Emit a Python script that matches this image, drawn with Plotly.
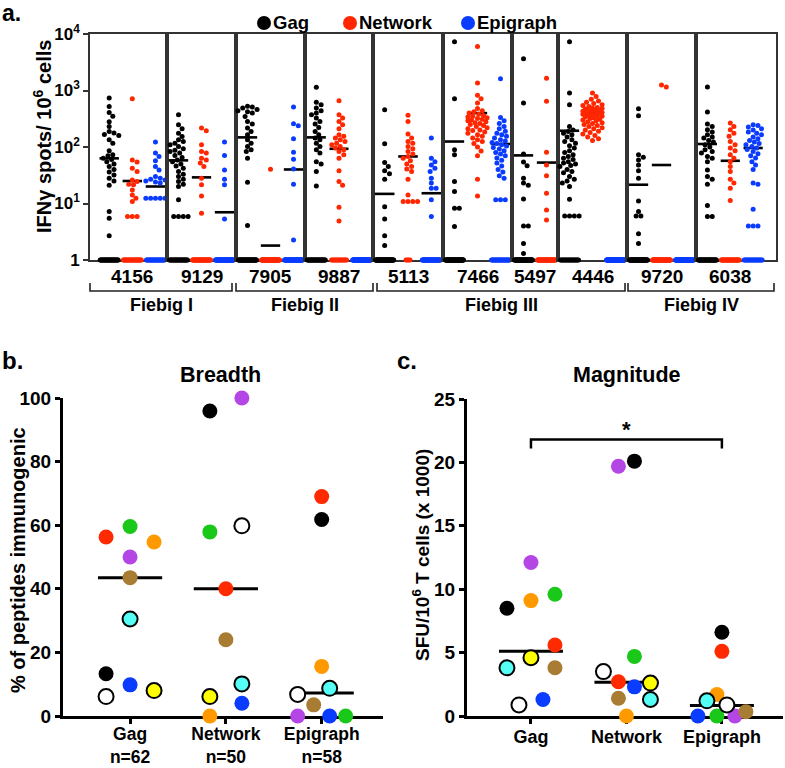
import numpy as np
import plotly.graph_objects as go

W, H = 785, 768

# ---------------- DATA ----------------
antigens = ["Gag", "Network", "Epigraph"]
antigen_colors = ["#000000", "#ff2600", "#0a3cff"]

subjects = ["4156", "9129", "7905", "9887", "5113", "7466", "5497", "4446", "9720", "6038"]
fiebig_groups = ["Fiebig I", "Fiebig II", "Fiebig III", "Fiebig IV"]

# panel a: positive responses (IFNg spots / 1e6 cells) per subject, per antigen
a_gag = [
    [740, 520, 410, 350, 280, 230, 188, 177, 167, 160, 134, 117, 86, 73, 70, 63, 60, 55, 50, 45, 40, 36, 32, 28, 25, 21, 7.2, 5.5, 2.7],
    [372, 248, 210, 176, 154, 134, 125, 117, 110, 102, 93, 88, 83, 78, 71, 65, 59, 55, 50, 46, 42, 37, 33, 30, 27, 24.5, 22, 20, 11.6, 5.9, 5.9, 5.9, 5.9],
    [524, 510, 490, 460, 438, 420, 398, 348, 284, 255, 216, 189, 165, 134, 117, 102, 89, 83, 63.5, 23.8, 4.1],
    [1137, 617, 561, 490, 438, 398, 372, 325, 284, 255, 222, 189, 165, 144, 134, 117, 102, 89, 78, 55, 50, 37, 20.5],
    [457, 114, 53, 45, 38, 33.5, 27, 8.8, 5.3, 2.7, 1.8],
    [7300, 716, 89, 73, 24.5, 16.3, 8.2, 8.2, 3.9],
    [3660, 600, 75, 54, 46.6, 28, 23, 21, 12, 4, 4, 1.95, 1.3],
    [7300, 900, 561, 231, 200, 189, 175, 165, 150, 134, 125, 117, 105, 96, 86, 80, 73, 68, 63.5, 60, 55, 52, 50, 47, 45, 40, 37, 35, 30, 27, 25, 23, 20, 11.9, 6, 6, 6, 6],
    [477, 358, 73, 66, 59, 48, 38, 28, 11.1, 7.2, 6, 6, 2.9, 1.95],
    [1150, 415, 255, 231, 202, 185, 165, 150, 144, 130, 122, 110, 100, 89, 83, 78, 68, 63.5, 55, 39, 30, 27, 22, 9.2, 5.9, 5.9],
]
a_network = [
    [716, 59, 54, 42, 37, 26, 24.5, 22, 21.5, 17.4, 14.2, 12.4, 10.8, 5.9, 5.9, 5.9],
    [216, 194, 110, 83, 78, 63, 59, 52, 45, 28, 21.5, 13.6, 6.7],
    [40.5],
    [659, 372, 325, 284, 248, 210, 165, 155, 144, 134, 125, 117, 110, 102, 96, 89, 83, 73, 63.5, 38, 24.5, 21, 8.6, 4.9],
    [363, 284, 169, 144, 125, 117, 102, 93, 83, 75, 68, 63.5, 57, 50, 45, 41, 37, 27, 14.2, 10.8, 10.8, 10.8, 10.8],
    [6000, 1360, 820, 716, 600, 480, 440, 420, 400, 380, 360, 350, 340, 330, 320, 310, 300, 290, 280, 270, 260, 250,
     240, 230, 220, 210, 200, 195, 185, 175, 165, 155, 145, 135, 125, 115, 100, 85, 70, 27, 13.6],
    [1650, 643, 81, 48, 31, 15.2, 7.7, 5.1],
    [900, 780, 700, 650, 620, 590, 560, 540, 520, 500, 490, 480, 470, 460, 450, 440, 430, 420, 410, 400, 395, 390, 380,
     370, 360, 350, 345, 340, 330, 320, 310, 300, 290, 280, 270, 260, 250, 240, 230, 220, 210, 200, 190, 180, 170, 160,
     150, 140, 130],
    [1250, 1150],
    [266, 231, 202, 176, 155, 125, 110, 96, 86, 73, 63.5, 55, 45, 37, 27, 23, 18.6, 11.3],
]
a_epigraph = [
    [122, 78, 68, 57, 45, 39, 30, 28, 27, 26, 25, 24, 23, 12.4, 12.4, 12.4, 12.4, 12.4],
    [122, 71, 39, 27, 21.5, 5.3],
    [510, 258, 238, 140, 81, 61, 41, 22, 2.26],
    [],
    [144, 63.5, 55, 48, 42, 37, 28, 23, 18.6, 18.6, 11.6, 5.9],
    [1620, 334, 290, 260, 230, 210, 190, 175, 165, 155, 145, 135, 128, 120, 115, 110, 104, 98, 92, 86, 80, 75, 70, 64,
     58, 52, 46, 40, 36, 31, 28, 11.6, 11.6, 11.6],
    None,
    [],
    [],
    [248, 240, 225, 210, 200, 185, 175, 165, 150, 140, 130, 122, 115, 110, 102, 96, 90, 83, 76, 70, 64, 55, 48, 40, 23, 22, 7.9, 4, 4, 4],
]
# number of non-responding peptides (plotted at 1)
a_zero_gag = [30, 25, 40, 30, 50, 52, 48, 20, 48, 35]
a_zero_network = [25, 35, 49, 15, 4, 0, 40, 0, 48, 30]
a_zero_epigraph = [25, 50, 49, 58, 45, 25, None, 58, 58, 20]
# medians (horizontal bars)
a_med_gag = [63, 58, 148, 148, 14.8, 125, 71, 194, 21.5, 113]
a_med_network = [25, 29, 1.8, 93, 68, 398, 53, 398, 48, 57]
a_med_epigraph = [20, 7, 40, None, 15.2, 113, None, None, None, 96]

# panels b & c (one point per subject colour)
subject_colors = ["#000000", "#ff2a00", "#0a3cff", "#1ac81a", "#b446e6", "#ff9900", "#a87c32", "#55fff5", "#ffff00", "#ffffff"]
subject_outlined = [False, False, False, False, False, False, False, True, True, True]

b_categories = ["Gag<br>n=62", "Network<br>n=50", "Epigraph<br>n=58"]
b_gag = [13.3, 56.3, 9.8, 59.6, 50, 54.7, 43.5, 30.5, 8, 6.1]
b_network = [95.9, 40, 4, 57.9, 100, 0, 24, 10.1, 6.1, 59.8]
b_epigraph = [61.8, 69, 0, 0, 0, 15.6, 3.5, 8.7, None, 6.8]
b_medians = [43.5, 40, 7.2]

c_categories = ["Gag", "Network", "Epigraph"]
c_gag = [8.5, 5.6, 1.3, 9.6, 12.1, 9.1, 3.8, 3.8, 4.6, 0.87]
c_network = [20.1, 2.7, 2.3, 4.7, 19.7, 0, 1.4, 1.3, 2.6, 3.5]
c_epigraph = [6.6, 5.1, 0, 0, 0, 1.7, 0.34, 1.2, None, 0.87]
c_medians = [5.1, 2.66, 0.82]

# ---------------- LAYOUT PARAMETERS (pixels) ----------------
a_x_edges = [90, 167, 236, 305, 373, 443, 512, 558, 627, 696, 776]
a_x_ranges = [(-0.83, 2.5), (-0.5, 2.5), (-0.5, 2.5), (-0.5, 2.5), (-0.5, 2.5), (-0.5, 2.5), (-0.5, 1.5),
              (-0.5, 2.5), (-0.5, 2.5), (-0.5, 3.0)]
a_y_top, a_y_bot = 34, 260
fiebig_spans = [(90, 232), (236, 373), (377, 625), (628, 774)]
legend_dot_x = [264, 350, 468]
legend_y = 23

# beeswarm-style horizontal spreading offsets (pixels)
b_slots_px = [
    [-24, -24, 0, 0, 0, 24, 0, 0, 24, -24],
    [-16, 0, 16, -16, 16, -16, 0, 16, -16, 16],
    [0, 0, 8, 24, -24, 0, -8, 8, 0, -24],
]
c_slots_px = [
    [-24, 24, 12, 24, 0, 0, 24, -24, 0, -12],
    [8, -8, 8, 8, -8, 0, -8, 24, 24, -23],
    [0, 0, -24, -5, 13, -5, 24, -15, 0, 5],
]


def px(x):
    return x / W


def py(y):
    return 1 - y / H


def swarm(vals, px_per_logdec, px_per_unit, diam=4.8, maxoff=10.5):
    placed = []
    offs = []
    steps = [0.0]
    s = 1.2
    while s <= maxoff + 1e-6:
        steps += [s, -s]
        s += 1.2
    for v in vals:
        y = np.log10(v) * px_per_logdec
        best, bestd = 0.0, -1
        for c in steps:
            d = min([np.hypot(c - a, y - b) for a, b in placed], default=1e9)
            if d >= diam:
                best = c
                break
            if d > bestd:
                bestd, best = d, c
        placed.append((best, y))
        offs.append(best / px_per_unit)
    return offs


fig = go.Figure()
layout = dict()

ppl = (a_y_bot - a_y_top) / 4.0
all_pos = [a_gag, a_network, a_epigraph]
all_zero = [a_zero_gag, a_zero_network, a_zero_epigraph]
all_med = [a_med_gag, a_med_network, a_med_epigraph]

for k, subj in enumerate(subjects):
    xn = "x" if k == 0 else f"x{k+1}"
    yn = "y" if k == 0 else f"y{k+1}"
    x0, x1 = a_x_edges[k], a_x_edges[k + 1]
    r0, r1 = a_x_ranges[k]
    ppu = (x1 - x0) / (r1 - r0)
    mx, my = [], []
    for j in range(3):
        m = all_med[j][k]
        if m is None:
            continue
        mx += [j - 0.42, j + 0.42, None]
        my += [m, m, None]
    fig.add_trace(go.Scatter(x=mx, y=my, mode="lines", line=dict(color="black", width=2.6),
                             xaxis=xn, yaxis=yn, showlegend=False, hoverinfo="skip", cliponaxis=False))
    for j in range(3):
        vals = all_pos[j][k]
        if vals is None:
            continue
        zc = all_zero[j][k]
        offs = swarm(vals, ppl, ppu)
        hw = min(9.0, 0.5 * zc)
        zoffs = list(np.linspace(-hw, hw, zc) / ppu) if zc > 1 else [0.0] * zc
        xs = [j + o for o in offs] + [j + o for o in zoffs]
        ys = list(vals) + [1] * zc
        fig.add_trace(go.Scatter(x=xs, y=ys, mode="markers",
                                 marker=dict(size=5, color=antigen_colors[j], line=dict(width=0)),
                                 xaxis=xn, yaxis=yn, showlegend=False, cliponaxis=False,
                                 name=antigens[j]))
    ax_line = dict(showline=True, mirror=True, linecolor="#333333", linewidth=1.6, showgrid=False,
                   zeroline=False, layer="below traces")
    layout["xaxis" if k == 0 else f"xaxis{k+1}"] = dict(
        domain=[px(x0), px(x1)], range=[r0, r1], anchor=yn, showticklabels=False, ticks="", **ax_line)
    yax = dict(domain=[py(a_y_bot), py(a_y_top)], type="log", range=[0, 4], anchor=xn, **ax_line)
    if k == 0:
        yax.update(tickvals=[1, 10, 100, 1000, 10000],
                   ticktext=["1", "10<sup>1</sup>", "10<sup>2</sup>", "10<sup>3</sup>", "10<sup>4</sup>"],
                   ticks="outside", ticklen=5, tickwidth=1.5, tickcolor="#333333",
                   tickfont=dict(size=17))
    else:
        yax.update(showticklabels=False, ticks="", matches="y")
    layout["yaxis" if k == 0 else f"yaxis{k+1}"] = yax


# ---------------- panels b & c ----------------
def add_dot_panel(xn, yn, series, slots_px, ppu, medians):
    mx, my = [], []
    for j, m in enumerate(medians):
        mx += [j - 0.335, j + 0.335, None]
        my += [m, m, None]
    fig.add_trace(go.Scatter(x=mx, y=my, mode="lines", line=dict(color="black", width=3),
                             xaxis=xn, yaxis=yn, showlegend=False, hoverinfo="skip", cliponaxis=False))
    for j, vals in enumerate(series):
        xs, ys, cols, lws = [], [], [], []
        for i, v in enumerate(vals):
            if v is None:
                continue
            xs.append(j + slots_px[j][i] / ppu)
            ys.append(v)
            cols.append(subject_colors[i])
            lws.append(2 if subject_outlined[i] else 0)
        fig.add_trace(go.Scatter(x=xs, y=ys, mode="markers",
                                 marker=dict(size=15, color=cols, line=dict(color="black", width=lws)),
                                 xaxis=xn, yaxis=yn, showlegend=False, cliponaxis=False))


bc_axis = dict(showline=True, linecolor="black", linewidth=3, showgrid=False, zeroline=False,
               ticks="outside", ticklen=5, tickwidth=2.5, tickcolor="black", layer="below traces")

b_x0, b_x1, b_r = 63, 383, (-0.70, 2.64)
b_ppu = (b_x1 - b_x0) / (b_r[1] - b_r[0])
add_dot_panel("x11", "y11", [b_gag, b_network, b_epigraph], b_slots_px, b_ppu, b_medians)
layout["xaxis11"] = dict(domain=[px(b_x0), px(b_x1)], range=list(b_r), anchor="y11",
                         tickvals=[0, 1, 2], ticktext=b_categories, tickfont=dict(size=17.5),
                         ticklabelstandoff=-5, **bc_axis)
layout["yaxis11"] = dict(domain=[py(716), py(398)], range=[0, 100], anchor="x11",
                         tickvals=[0, 20, 40, 60, 80, 100], tickfont=dict(size=19), **bc_axis)

c_x0, c_x1, c_r = 467, 783, (-0.67, 2.64)
c_ppu = (c_x1 - c_x0) / (c_r[1] - c_r[0])
add_dot_panel("x12", "y12", [c_gag, c_network, c_epigraph], c_slots_px, c_ppu, c_medians)
layout["xaxis12"] = dict(domain=[px(c_x0), px(c_x1)], range=list(c_r), anchor="y12",
                         tickvals=[0, 1, 2], ticktext=c_categories, tickfont=dict(size=18),
                         ticklabelstandoff=-3, **bc_axis)
layout["yaxis12"] = dict(domain=[py(716), py(399)], range=[0, 25], anchor="x12",
                         tickvals=[0, 5, 10, 15, 20, 25], tickfont=dict(size=19), **bc_axis)

# ---------------- shapes & annotations ----------------
shapes = []
for (s0, s1) in fiebig_spans:
    shapes.append(dict(type="path", xref="paper", yref="paper",
                       path=f"M {px(s0)},{py(283)} L {px(s0)},{py(291)} L {px(s1)},{py(291)} L {px(s1)},{py(283)}",
                       line=dict(color="#222222", width=1.6)))
# significance bracket in panel c
shapes.append(dict(type="path", xref="x12", yref="y12", path="M 0,21.1 L 0,21.8 L 2,21.8 L 2,21.1",
                   line=dict(color="black", width=2.5)))
# legend swatches
for j in range(3):
    cx = legend_dot_x[j]
    shapes.append(dict(type="circle", xref="paper", yref="paper",
                       x0=px(cx - 7), x1=px(cx + 7), y0=py(legend_y + 7), y1=py(legend_y - 7),
                       fillcolor=antigen_colors[j], line=dict(width=0)))

ann = []
for j, name in enumerate(antigens):
    ann.append(dict(text=name, xref="paper", yref="paper", x=px(legend_dot_x[j] + 7), y=py(legend_y),
                    showarrow=False, font=dict(size=18.5), xanchor="left", yanchor="middle"))
for k, subj in enumerate(subjects):
    xn = "x" if k == 0 else f"x{k+1}"
    ncat = 2 if a_epigraph[k] is None else 3
    ann.append(dict(text=subj, xref=xn, yref="paper", x=(ncat - 1) / 2, y=py(276),
                    showarrow=False, font=dict(size=19), xanchor="center", yanchor="middle"))
for (s0, s1), g in zip(fiebig_spans, fiebig_groups):
    ann.append(dict(text=g, xref="paper", yref="paper", x=px((s0 + s1) / 2), y=py(305),
                    showarrow=False, font=dict(size=18), xanchor="center", yanchor="middle"))
ann += [
    dict(text="a.", x=px(0), y=py(13), xref="paper", yref="paper", showarrow=False,
         font=dict(size=23), xanchor="left", yanchor="middle"),
    dict(text="b.", x=px(0), y=py(361), xref="paper", yref="paper", showarrow=False,
         font=dict(size=24), xanchor="left", yanchor="middle"),
    dict(text="c.", x=px(395), y=py(361), xref="paper", yref="paper", showarrow=False,
         font=dict(size=24), xanchor="left", yanchor="middle"),
    dict(text="IFNγ spots/ 10<sup>6</sup> cells", x=px(43), y=py(137), xref="paper", yref="paper",
         showarrow=False, textangle=-90, font=dict(size=20), xanchor="center", yanchor="middle"),
    dict(text="% of peptides immunogenic", x=px(18), y=py(560), xref="paper", yref="paper",
         showarrow=False, textangle=-90, font=dict(size=20), xanchor="center", yanchor="middle"),
    dict(text="SFU/10<sup>6</sup> T cells (x 1000)", x=px(421), y=py(555), xref="paper", yref="paper",
         showarrow=False, textangle=-90, font=dict(size=19), xanchor="center", yanchor="middle"),
    dict(text="Breadth", x=px(220), y=py(375), xref="paper", yref="paper", showarrow=False,
         font=dict(size=21.5), xanchor="center", yanchor="middle"),
    dict(text="Magnitude", x=px(627), y=py(375), xref="paper", yref="paper", showarrow=False,
         font=dict(size=21.5), xanchor="center", yanchor="middle"),
    dict(text="*", xref="x12", yref="y12", x=1, y=22.6, showarrow=False, font=dict(size=22),
         xanchor="center", yanchor="middle"),
]

fig.update_layout(
    width=W, height=H, margin=dict(l=0, r=0, t=0, b=0, autoexpand=False),
    paper_bgcolor="white", plot_bgcolor="rgba(0,0,0,0)",
    font=dict(family="Liberation Sans, Arial, sans-serif", size=18, color="black", weight="bold"),
    shapes=shapes, annotations=ann, hovermode=False, showlegend=False,
    **layout,
)

fig.write_html(
    "out.html",
    config={"displayModeBar": False},
    post_script="document.body.style.margin='0';document.body.style.overflow='hidden';"
                "document.documentElement.style.overflow='hidden';",
)
